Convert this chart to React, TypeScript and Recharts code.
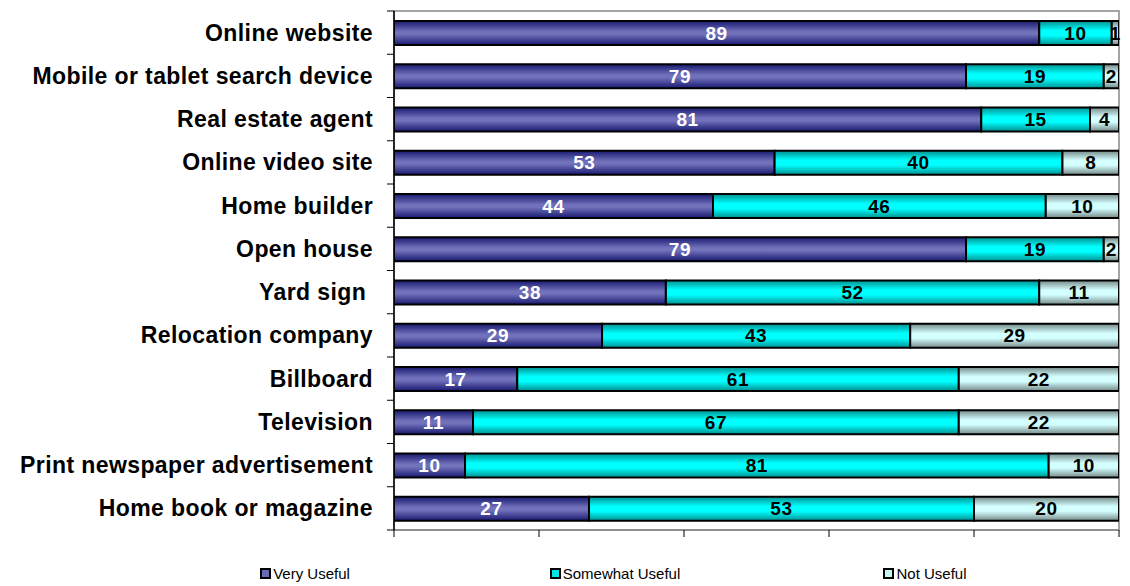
import React from 'react'
import { BarChart, Bar, XAxis, YAxis, Legend, LabelList, ReferenceArea } from 'recharts'

const categories = [
  'Online website',
  'Mobile or tablet search device',
  'Real estate agent',
  'Online video site',
  'Home builder',
  'Open house',
  'Yard sign\u00a0',
  'Relocation company',
  'Billboard',
  'Television',
  'Print newspaper advertisement',
  'Home book or magazine',
]
// bar lengths; labels show them rounded
const veryUseful = [89, 78.9, 81, 52.5, 44, 78.9, 37.5, 28.7, 17, 10.9, 9.8, 26.9]
const somewhatUseful = [10, 19, 15, 39.7, 45.9, 19, 51.5, 42.5, 60.9, 67, 80.5, 53.1]
const notUseful = [1, 2.1, 4, 7.8, 10.1, 2.1, 11, 28.8, 22.1, 22.1, 9.7, 20]
const xTicks = [0, 20, 40, 60, 80, 100]

const data = categories.map((name, i) => ({
  name,
  very: veryUseful[i],
  somewhat: somewhatUseful[i],
  not: notUseful[i],
}))

const FONT = '"Liberation Sans", Arial, sans-serif'
const PLOT_LEFT = 394
const HALF_BAND = (530 - 11) / 12 / 2

const CategoryTick = (props: any) => {
  const { x, y, payload, index } = props
  const half = payload && payload.offset > 0 ? payload.offset : HALF_BAND
  return (
    <g>
      <text x={x} y={y} dy={8} textAnchor="end" fontFamily={FONT} fontWeight="bold" fontSize={23} letterSpacing={0.4} fill="#000">
        {payload.value}
      </text>
      {index === 0 && <line x1={PLOT_LEFT - 7} x2={PLOT_LEFT} y1={y - half} y2={y - half} stroke="#000" />}
      <line x1={PLOT_LEFT - 7} x2={PLOT_LEFT} y1={y + half} y2={y + half} stroke="#000" />
    </g>
  )
}

const legendItems = [
  { label: 'Very Useful', color: '#6a6ab4' },
  { label: 'Somewhat Useful', color: '#00e6e6' },
  { label: 'Not Useful', color: '#c4f4f4' },
]

const LegendContent = () => (
  <div style={{ display: 'flex', marginLeft: 150, width: 930, paddingTop: 9, fontFamily: FONT, fontSize: 15 }}>
    {legendItems.map((it) => (
      <div key={it.label} style={{ width: 310, display: 'flex', justifyContent: 'center', alignItems: 'center' }}>
        <span style={{ display: 'inline-block', width: 7, height: 7, background: it.color, border: '2px solid #000', marginRight: 2 }} />
        <span>{it.label}</span>
      </div>
    ))}
  </div>
)

const labelStyle = { fontFamily: FONT, fontWeight: 'bold' as const, fontSize: 19, letterSpacing: 0.6 }
const fmt = (v: any) => Math.round(Number(v))

export default function App() {
  return (
    <div style={{ position: 'absolute', left: 0, top: 0, width: 1130, height: 586, background: '#fff' }}>
      <BarChart
        width={1130}
        height={586}
        data={data}
        layout="vertical"
        margin={{ top: 11, right: 11, left: 0, bottom: 0 }}
      >
        <defs>
          <linearGradient id="gVery" x1="0" y1="0" x2="0" y2="1">
            <stop offset="0%" stopColor="#181870" />
            <stop offset="45%" stopColor="#7272bc" />
            <stop offset="55%" stopColor="#7272bc" />
            <stop offset="100%" stopColor="#181870" />
          </linearGradient>
          <linearGradient id="gSome" x1="0" y1="0" x2="0" y2="1">
            <stop offset="0%" stopColor="#008f8f" />
            <stop offset="40%" stopColor="#00ffff" />
            <stop offset="60%" stopColor="#00ffff" />
            <stop offset="100%" stopColor="#008f8f" />
          </linearGradient>
          <linearGradient id="gNot" x1="0" y1="0" x2="0" y2="1">
            <stop offset="0%" stopColor="#748888" />
            <stop offset="40%" stopColor="#d4ffff" />
            <stop offset="60%" stopColor="#d4ffff" />
            <stop offset="100%" stopColor="#748888" />
          </linearGradient>
        </defs>
        <ReferenceArea x1={0} x2={100} fill="none" stroke="#888" strokeWidth={1.5} ifOverflow="visible" />
        <XAxis
          type="number"
          domain={[0, 100]}
          ticks={xTicks}
          allowDataOverflow
          height={26}
          tickSize={7}
          tickFormatter={() => ''}
          axisLine={{ stroke: '#888', strokeWidth: 1.5 }}
          tickLine={{ stroke: '#000' }}
        />
        <YAxis
          type="category"
          dataKey="name"
          width={PLOT_LEFT}
          tickSize={7}
          tickMargin={14}
          tickLine={false}
          interval={0}
          tick={<CategoryTick />}
          axisLine={{ stroke: '#000', strokeWidth: 1.5 }}
        />
        <Legend verticalAlign="bottom" height={30} content={<LegendContent />} />
        <Bar dataKey="very" stackId="a" barSize={24} fill="url(#gVery)" stroke="#000" strokeWidth={2} isAnimationActive={false}>
          <LabelList dataKey="very" position="center" fill="#fff" style={labelStyle} formatter={fmt} />
        </Bar>
        <Bar dataKey="somewhat" stackId="a" barSize={24} fill="url(#gSome)" stroke="#000" strokeWidth={2} isAnimationActive={false}>
          <LabelList dataKey="somewhat" position="center" fill="#000" style={labelStyle} formatter={fmt} />
        </Bar>
        <Bar dataKey="not" stackId="a" barSize={24} fill="url(#gNot)" stroke="#000" strokeWidth={2} isAnimationActive={false}>
          <LabelList dataKey="not" position="center" fill="#000" style={labelStyle} formatter={fmt} />
        </Bar>
      </BarChart>
    </div>
  )
}
